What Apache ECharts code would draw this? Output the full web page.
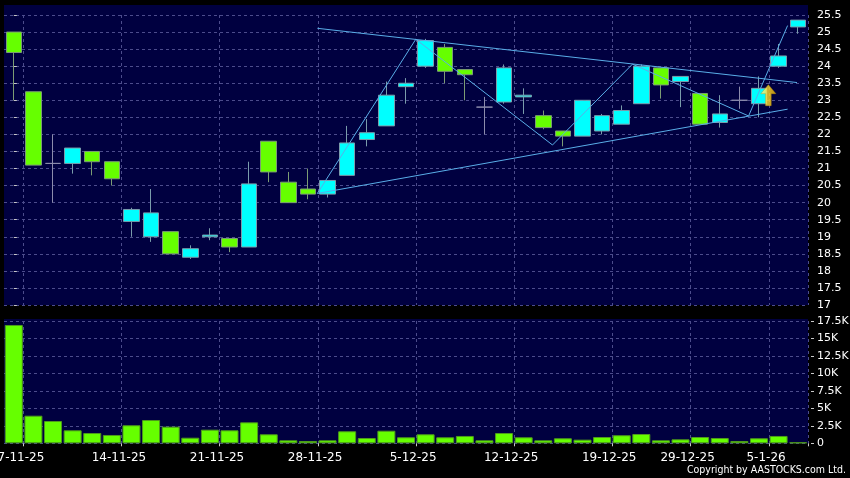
<!DOCTYPE html>
<html><head><meta charset="utf-8">
<script src="https://cdn.jsdelivr.net/npm/echarts@6/dist/echarts.min.js"></script>
<style>html,body{margin:0;padding:0;background:#000;}#c{width:850px;height:478px;}</style>
</head><body><div id="c"></div>
<script>
const dates = ['6-11-25','7-11-25','10-11-25','11-11-25','12-11-25','13-11-25','14-11-25','17-11-25','18-11-25','19-11-25','20-11-25','21-11-25','24-11-25','25-11-25','26-11-25','27-11-25','28-11-25','1-12-25','2-12-25','3-12-25','4-12-25','5-12-25','8-12-25','9-12-25','10-12-25','11-12-25','12-12-25','15-12-25','16-12-25','17-12-25','18-12-25','19-12-25','22-12-25','23-12-25','24-12-25','29-12-25','30-12-25','31-12-25','2-1-26','5-1-26','6-1-26'];
const labelDates = ['7-11-25','14-11-25','21-11-25','28-11-25','5-12-25','12-12-25','19-12-25','29-12-25','5-1-26'];
const opens  = [25.0,23.25,21.15,21.15,21.5,21.2,19.45,19.0,19.15,18.4,19.0,18.95,18.7,21.8,20.6,20.4,20.25,20.8,21.85,22.25,23.4,24.0,24.55,23.9,22.8,22.95,23.1,22.55,22.1,21.95,22.1,22.3,22.9,23.95,23.55,23.2,22.35,23.0,22.9,24.0,25.15];
const closes = [24.4,21.1,21.15,21.6,21.2,20.7,19.8,19.7,18.5,18.65,19.05,18.7,20.55,20.9,20.0,20.25,20.65,21.75,22.05,23.15,23.5,24.75,23.85,23.75,22.8,23.95,23.15,22.2,21.95,23.0,22.55,22.7,24.0,23.45,23.7,22.3,22.6,23.0,23.35,24.3,25.35];
const lows   = [23.0,21.1,20.0,20.85,20.8,20.5,19.0,18.85,18.5,18.35,18.9,18.55,18.7,20.6,20.0,20.1,20.15,20.8,21.65,22.25,22.9,23.95,23.5,23.0,22.0,22.9,22.6,22.15,21.65,21.95,22.0,22.3,22.9,23.05,22.8,22.3,22.2,22.75,22.5,23.95,24.95];
const highs  = [25.0,23.25,22.0,21.6,21.5,21.2,19.85,20.4,19.15,18.75,19.25,18.95,21.2,21.8,20.9,21.0,20.65,22.25,22.45,23.55,23.65,24.8,24.65,23.9,23.1,24.05,23.35,22.7,22.1,23.0,22.6,22.85,24.05,23.95,23.7,23.2,23.15,23.4,23.7,24.65,25.35];
const volumes = [16930,3950,3190,1860,1470,1190,2580,3330,2380,800,1950,1860,3000,1290,430,330,430,1720,760,1800,860,1290,860,1050,430,1470,860,430,720,520,900,1150,1330,430,570,900,760,330,720,1050,140];
const priceAxis = {min:17, max:25.5, step:0.5};
const volumeAxis = {min:0, max:17500, step:2500};
const upperTrend = [[15.48,25.11],[39.94,23.52]];
const lowerTrend = [[15.48,20.27],[39.46,22.74]];
const zigzag = [[15.48,20.27],[20.5,24.79],[27.47,21.69],[31.55,24.06],[37.47,22.54],[39.46,25.19]];
const signal = [[38.48,23.15]];

const labelSet = new Set(labelDates);
const isLabel = (i, v) => labelSet.has(v);
const candleData = dates.map((d,i)=>[opens[i],closes[i],lows[i],highs[i]]);
const gridColor = '#4c4c8c';
const font = 'DejaVu Sans';
const chart = echarts.init(document.getElementById('c'), null, {renderer:'canvas'});
const bg = '#000040';
const trendStyle = {color:'#5aaee8', width:1};
chart.setOption({
  backgroundColor:'#000000',
  animation:false,
  title:{text:'Copyright by AASTOCKS.com Ltd.', right:4, top:465, padding:0,
    textStyle:{color:'#ffffff', fontSize:10.5, fontWeight:'normal', fontFamily:'DejaVu Sans Condensed'}},
  graphic:[
    {type:'rect', shape:{x:4,y:5,width:804,height:10}, style:{fill:bg}, silent:true},
    {type:'rect', shape:{x:4,y:319,width:804,height:2}, style:{fill:bg}, silent:true}
  ],
  grid:[
    {left:4, right:42, top:15, height:290, show:true, backgroundColor:bg, borderWidth:0, outerBoundsMode:'none'},
    {left:4, right:42, top:321, height:122.3, show:true, backgroundColor:bg, borderWidth:0, outerBoundsMode:'none'}
  ],
  xAxis:[
    {type:'category', gridIndex:0, data:dates, boundaryGap:true,
      axisLine:{show:false}, axisTick:{show:false}, axisLabel:{show:false},
      splitLine:{show:true, interval:isLabel, lineStyle:{color:gridColor, type:[3,3], width:1}}},
    {type:'value', gridIndex:0, min:-0.5, max:40.5, show:false, splitLine:{show:false}},
    {type:'category', gridIndex:1, data:dates, boundaryGap:true, position:'bottom', offset:3,
      axisLine:{show:false},
      axisTick:{show:true, interval:isLabel, length:3, lineStyle:{color:'#c8c8c8'}},
      axisLabel:{show:true, interval:isLabel, color:'#ffffff', fontSize:12, fontFamily:font, margin:6, padding:[0,25,0,0]},
      splitLine:{show:true, interval:isLabel, lineStyle:{color:gridColor, type:[3,3], width:1}}}
  ],
  yAxis:[
    {type:'value', gridIndex:0, position:'right', min:priceAxis.min, max:priceAxis.max, interval:priceAxis.step, offset:3,
      axisLine:{show:false}, axisTick:{show:true, length:3, lineStyle:{color:'#c8c8c8'}},
      axisLabel:{color:'#ffffff', fontSize:11, fontFamily:font, margin:6},
      splitLine:{show:true, lineStyle:{color:gridColor, type:[3,3], width:1}}},
    {type:'value', gridIndex:1, position:'right', min:volumeAxis.min, max:volumeAxis.max, interval:volumeAxis.step, offset:3,
      axisLine:{show:false}, axisTick:{show:true, length:3, lineStyle:{color:'#c8c8c8'}},
      axisLabel:{color:'#ffffff', fontSize:11, fontFamily:font, margin:6,
        formatter:v=> v===0 ? '0' : (v/1000)+'K'},
      splitLine:{show:true, lineStyle:{color:gridColor, type:[3,3], width:1}}}
  ],
  series:[
    {type:'candlestick', xAxisIndex:0, yAxisIndex:0, data:candleData, barWidth:16,
      itemStyle:{color:'#00ffff', color0:'#66ff00', borderColor:'#7a9cab', borderColor0:'#7c9c74', borderColorDoji:'#8c8cac', borderWidth:1}},
    {type:'line', xAxisIndex:1, yAxisIndex:0, data:upperTrend, symbol:'none', lineStyle:trendStyle, z:3},
    {type:'line', xAxisIndex:1, yAxisIndex:0, data:lowerTrend, symbol:'none', lineStyle:trendStyle, z:3},
    {type:'line', xAxisIndex:1, yAxisIndex:0, data:zigzag, symbol:'none', lineStyle:trendStyle, z:3},
    {type:'scatter', xAxisIndex:1, yAxisIndex:0, data:signal, z:4,
      symbol:'path://M8,0 L16,9 L11,9 L11,21 L5,21 L5,9 L0,9 Z', symbolSize:[15,21], symbolKeepAspect:false,
      itemStyle:{color:new echarts.graphic.LinearGradient(0,0,1,0,[{offset:0,color:'#fffbb0'},{offset:0.45,color:'#ffe030'},{offset:1,color:'#f0b000'}]), borderColor:'#c09000', borderWidth:0.5}},
    {type:'bar', xAxisIndex:2, yAxisIndex:1, data:volumes, barWidth:18,
      itemStyle:{color:'#66ff00', borderColor:'#4f9a1c', borderWidth:1}}
  ]
});
</script></body></html>
